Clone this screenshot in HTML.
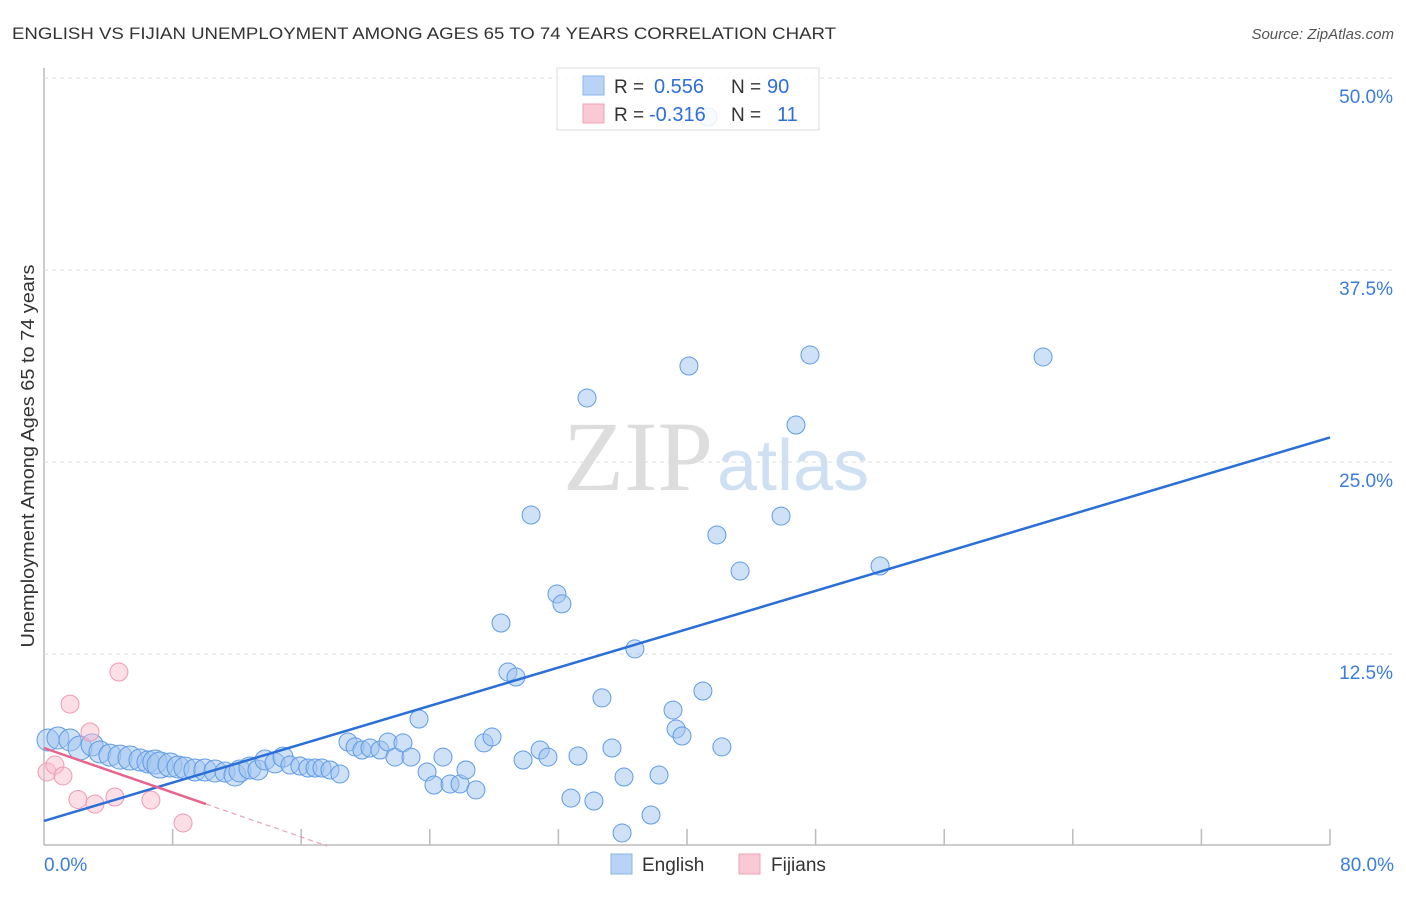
<!DOCTYPE html>
<html><head><meta charset="utf-8"><style>
body{margin:0;background:#fff;font-family:"Liberation Sans",sans-serif}
svg text{font-family:"Liberation Sans",sans-serif}
</style></head><body>
<svg id="chart" width="1406" height="892">
<text x="12" y="39" font-size="17" fill="#333" textLength="824" lengthAdjust="spacingAndGlyphs">ENGLISH VS FIJIAN UNEMPLOYMENT AMONG AGES 65 TO 74 YEARS CORRELATION CHART</text>
<text x="1394" y="39" font-size="15" fill="#555" font-style="italic" text-anchor="end">Source: ZipAtlas.com</text>
<text x="0" y="0" transform="translate(34,456) rotate(-90)" font-size="18" fill="#333" text-anchor="middle" textLength="383" lengthAdjust="spacingAndGlyphs">Unemployment Among Ages 65 to 74 years</text>
<g id="grid"></g>
<text x="713" y="490" font-size="100" fill="#ddd" text-anchor="end" style="font-family:'Liberation Serif',serif">ZIP</text>
<text x="717" y="490" font-size="72" fill="#cfe0f3">atlas</text>
<g id="marks"></g>
<g>
<rect x="557" y="68" width="262" height="62" fill="#fff" fill-opacity="0.85" stroke="#ddd"/>
<rect x="583" y="76" width="21" height="19" fill="#b8d3f5" stroke="#8ab4ea"/>
<rect x="583" y="104" width="21" height="19" fill="#f9c9d6" stroke="#f0a2b8"/>
<text x="614" y="93" font-size="19" fill="#333">R = </text><text x="654" y="93" font-size="20" fill="#2f6fd6">0.556</text>
<text x="731" y="93" font-size="19" fill="#333">N = </text><text x="767" y="93" font-size="20" fill="#2f6fd6">90</text>
<text x="614" y="121" font-size="19" fill="#333">R = </text><text x="649" y="121" font-size="20" fill="#2f6fd6">-0.316</text>
<text x="731" y="121" font-size="19" fill="#333">N = </text><text x="777" y="121" font-size="20" fill="#2f6fd6">11</text>
</g>
<g>
<rect x="611" y="854" width="21" height="20" fill="#b8d3f5" stroke="#8ab4ea"/>
<text x="642" y="871" font-size="19" fill="#333">English</text>
<rect x="739" y="854" width="21" height="20" fill="#f9c9d6" stroke="#f0a2b8"/>
<text x="771" y="871" font-size="19" fill="#333">Fijians</text>
</g>
<text x="44" y="871" font-size="19" fill="#3b7ddd">0.0%</text>
<text x="1394" y="871" font-size="19" fill="#3b7ddd" text-anchor="end">80.0%</text>
</svg>
<script>
const yTicks=[12.5,25,37.5,50];
const yTickLabels=["12.5%","25.0%","37.5%","50.0%"];
const xTicks=[8,16,24,32,40,48,56,64,72,80];
const englishX=[0.25,0.87,1.62,2.24,2.99,3.48,4.1,4.73,5.35,5.97,6.47,6.9,7.22,7.84,8.34,8.77,9.39,10.01,10.64,11.26,11.88,12.19,12.81,13.31,13.75,14.37,14.87,15.3,15.92,16.42,16.86,17.29,17.79,18.41,18.91,19.35,19.78,20.28,20.9,21.4,21.83,22.33,22.83,23.33,23.83,24.26,24.82,25.26,25.88,26.25,26.87,27.37,27.87,28.43,28.86,29.36,29.8,30.3,30.86,31.35,31.91,32.22,32.78,33.22,34.21,34.71,35.33,35.96,36.08,36.76,37.76,38.26,39.13,39.32,39.69,40.12,40.99,41.86,42.17,43.3,45.85,46.78,47.65,52.01,62.15,41.31,33.78];
const englishY=[6.9,7.03,6.9,6.38,6.58,6.12,5.92,5.79,5.73,5.6,5.47,5.47,5.27,5.27,5.14,5.08,4.95,4.95,4.88,4.82,4.62,4.88,5.08,4.95,5.6,5.41,5.79,5.27,5.21,5.08,5.08,5.08,4.95,4.69,6.77,6.45,6.25,6.38,6.25,6.77,5.79,6.71,5.79,8.27,4.82,3.97,5.79,4.04,4.04,4.95,3.65,6.71,7.1,14.52,11.33,11.0,5.6,21.55,6.25,5.79,16.41,15.76,3.12,5.86,2.93,9.64,6.38,0.85,4.49,12.83,2.02,4.62,8.85,7.62,7.16,31.25,10.09,20.25,6.45,17.9,21.48,27.41,31.97,18.23,31.84,47.46,29.17];
const englishR=[11,11,11,12,11,11,11,12,12,11,11,12,13,12,11,11,11,11,11,10,11,11,11,10,10,10,10,9,9,9,9,9,9,9,9,9,9,9,9,9,9,9,9,9,9,9,9,9,9,9,9,9,9,9,9,9,9,9,9,9,9,9,9,9,9,9,9,9,9,9,9,9,9,9,9,9,9,9,9,9,9,9,9,9,9,9,9];
const fijianX=[0.19,0.68,1.18,1.62,2.11,2.86,3.17,4.41,4.66,6.65,8.65];
const fijianY=[4.82,5.27,4.56,9.24,3.03,7.42,2.73,3.19,11.33,2.99,1.5];
const englishTrend=[1.63,26.6];
const fijianTrend=[6.38,2.73,10.08];
const L=44,R=1330,B=846,T=78;
const sx=v=>L+(v/80)*(R-L);
const sy=v=>B-(v/50)*(B-T);
const NS="http://www.w3.org/2000/svg";
function mk(tag,attrs,parent){const e=document.createElementNS(NS,tag);for(const k in attrs)e.setAttribute(k,attrs[k]);parent.appendChild(e);return e;}
const grid=document.getElementById('grid'),marks=document.getElementById('marks');
mk('line',{x1:L,y1:68,x2:L,y2:845,stroke:'#bbb','stroke-width':1.5},grid);
mk('line',{x1:L,y1:845,x2:R,y2:845,stroke:'#bbb','stroke-width':1.5},grid);
yTicks.forEach((t,i)=>{
  const g=mk('line',{x1:L,y1:sy(t),x2:1394,y2:sy(t),stroke:'#ddd','stroke-dasharray':'4,4'},grid);
  
  
  const tx=mk('text',{x:1393,y:sy(t)+25,'font-size':19,fill:'#3b7ddd','text-anchor':'end'},grid);
  tx.textContent=yTickLabels[i];
  
  
});
xTicks.forEach(t=>{
  const l=mk('line',{x1:sx(t),y1:829,x2:sx(t),y2:845,stroke:'#bbb','stroke-width':1.5},grid);
  
  
});
englishX.forEach((x,i)=>{
  const c=mk('circle',{cx:sx(x),cy:sy(englishY[i]),r:englishR[i],fill:'rgba(160,196,240,0.5)',stroke:'#5e9be6','stroke-width':1},marks);
  
  
});
fijianX.forEach((x,i)=>{
  const c=mk('circle',{cx:sx(x),cy:sy(fijianY[i]),r:9,fill:'rgba(248,190,206,0.5)',stroke:'#ec9ab2','stroke-width':1},marks);
  
  
});
const bl=mk('line',{x1:sx(0),y1:sy(englishTrend[0]),x2:sx(80),y2:sy(englishTrend[1]),stroke:'#2a6fd8','stroke-width':2.5},marks);


const slope=(fijianTrend[1]-fijianTrend[0])/fijianTrend[2];
const pl=mk('line',{x1:sx(0),y1:sy(fijianTrend[0]),x2:sx(fijianTrend[2]),y2:sy(fijianTrend[1]),stroke:'#e8648c','stroke-width':2.5},marks);


const xe=-fijianTrend[0]/slope;
const pd=mk('line',{x1:sx(fijianTrend[2]),y1:sy(fijianTrend[1]),x2:sx(xe),y2:sy(0),stroke:'#e8a0b5','stroke-width':1.2,'stroke-dasharray':'5,4'},marks);


</script>
</body></html>
